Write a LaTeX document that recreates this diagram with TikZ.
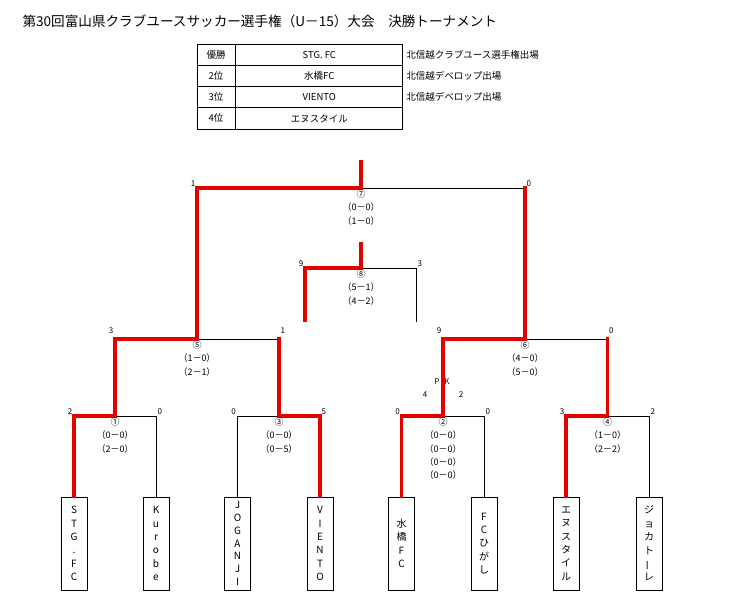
\documentclass[tikz,border=0pt]{standalone}
\usepackage{fontspec}
\setmainfont{Noto Sans CJK JP}
\usetikzlibrary{positioning}
\definecolor{winred}{RGB}{226,0,0}
\tikzset{
  win/.style={winred, line width=3.4pt, line cap=rect},
  lose/.style={black, line width=0.8pt},
  team/.style={draw, line width=0.8pt, minimum width=26pt, minimum height=93pt, inner sep=0pt, align=center, font=\fontsize{10}{13.4}\selectfont},
  res/.style={below, inner sep=1.5pt, align=center, font=\fontsize{9}{13.4}\selectfont},
  pt/.style={font=\fontsize{8}{9}\selectfont, inner sep=1.5pt},
  scl/.style={pt, anchor=south east},
  scr/.style={pt, anchor=south west},
  rank/.style={draw, line width=0.8pt, minimum width=38pt, minimum height=21.25pt, inner sep=0pt, font=\fontsize{9.5}{11}\selectfont},
  cell/.style={draw, line width=0.8pt, minimum width=167pt, minimum height=21.25pt, inner sep=0pt, font=\fontsize{9.5}{11}\selectfont},
  note/.style={inner sep=0pt, font=\fontsize{9.5}{11}\selectfont}
}
\begin{document}
\begin{tikzpicture}[x=1pt, y=-1pt, line join=miter]
  \useasboundingbox (0,0) rectangle (735,605);
  % title and ranking
  \node[anchor=west, font=\fontsize{13.6}{16}\selectfont] (title) at (19,21) {第30回富山県クラブユースサッカー選手権（U－15）大会　決勝トーナメント};
  \foreach \i/\rk/\tm/\nt in {0/優勝/STG. FC/北信越クラブユース選手権出場, 1/2位/水橋FC/北信越デベロップ出場, 2/3位/VIENTO/北信越デベロップ出場, 3/4位/エヌスタイル/}{
    \node[rank] (rk\i) at (216,{54.6+21.25*\i}) {\rk};
    \node[cell, right=0pt of rk\i] (tm\i) {\tm};
    \node[note, right=3pt of tm\i] (nt\i) {\nt};
  }
  % teams
  \node[team] (t1) at (74,543.5) {S\\T\\G\\.\\F\\C};
  \node[team] (t2) at (156,543.5) {K\\u\\r\\o\\b\\e};
  \node[team, font=\fontsize{10}{12.8}\selectfont] (t3) at (237.5,543.5) {J\\O\\G\\A\\N\\J\\I};
  \node[team] (t4) at (320,543.5) {V\\I\\E\\N\\T\\O};
  \node[team] (t5) at (401.5,543.5) {水\\橋\\F\\C};
  \node[team] (t6) at (484,543.5) {F\\C\\ひ\\が\\し};
  \node[team] (t7) at (566,543.5) {エ\\ヌ\\ス\\タ\\イ\\ル};
  \node[team] (t8) at (649,543.5) {ジ\\ョ\\カ\\ト\\\rotatebox[origin=c]{90}{ー}\\レ};
  % match points
  \coordinate (m1) at (115,416);
  \coordinate (m3) at (279,416);
  \coordinate (m2) at (443,416);
  \coordinate (m4) at (607.5,416);
  \coordinate (m5) at (197,339);
  \coordinate (m6) at (525,339);
  \coordinate (m7) at (361,188);
  \coordinate (m8) at (361,268);
  \coordinate (top7) at (361,162);
  \coordinate (top8) at (361,244);
  \coordinate (l8) at (305,320);
  \coordinate (r8) at (416,322);
  % losers
  \draw[lose] (t2.north) |- (m1);
  \draw[lose] (t3.north) |- (m3);
  \draw[lose] (t6.north) |- (m2);
  \draw[lose] (t8.north) |- (m4);
  \draw[lose] (m3 |- m5) -- (m5);
  \draw[lose] (m4 |- m6) -- (m6);
  \draw[lose] (m6 |- m7) -- (m7);
  \draw[lose] (r8) |- (m8);
  % winners
  \draw[win] (t1.north) |- (m1);
  \draw[win] (t4.north) |- (m3);
  \draw[win] (t5.north) |- (m2);
  \draw[win] (t7.north) |- (m4);
  \draw[win] (m1) |- (m5);
  \draw[win] (m3) -- (m3 |- m5);
  \draw[win] (m2) |- (m6);
  \draw[win] (m4) -- (m4 |- m6);
  \draw[win] (m5) |- (m7);
  \draw[win] (m6) -- (m6 |- m7);
  \draw[win] (m7) -- (top7);
  \draw[win] (l8) |- (m8);
  \draw[win] (m8) -- (top8);
  % scores
  \node[scl] (s1l) at (t1.north |- m1) {2};
  \node[scr] (s1r) at (t2.north |- m1) {0};
  \node[scl] (s3l) at (t3.north |- m3) {0};
  \node[scr] (s3r) at (t4.north |- m3) {5};
  \node[scl] (s2l) at (t5.north |- m2) {0};
  \node[scr] (s2r) at (t6.north |- m2) {0};
  \node[scl] (s4l) at (t7.north |- m4) {3};
  \node[scr] (s4r) at (t8.north |- m4) {2};
  \node[scl, yshift=4pt] (s5l) at (m1 |- m5) {3};
  \node[scr, yshift=4pt] (s5r) at (m3 |- m5) {1};
  \node[scl, yshift=4pt] (s6l) at (m2 |- m6) {9};
  \node[scr, yshift=4pt] (s6r) at (m4 |- m6) {0};
  \node[scl] (s7l) at (m5 |- m7) {1};
  \node[scr] (s7r) at (m6 |- m7) {0};
  \node[scl] (s8l) at (l8 |- m8) {9};
  \node[scr] (s8r) at (r8 |- m8) {3};
  \node[pt] (pk) at (442,382) {P\hspace{5pt}K};
  \node[pt] (pk4) at (425,395) {4};
  \node[pt] (pk2) at (461,395) {2};
  % results
  \node[res] (r1) at (m1) {①\\（0－0）\\（2－0）};
  \node[res] (r3) at (m3) {③\\（0－0）\\（0－5）};
  \node[res] (r2) at (m2) {②\\（0－0）\\（0－0）\\（0－0）\\（0－0）};
  \node[res] (r4) at (m4) {④\\（1－0）\\（2－2）};
  \node[res] (r5) at (m5) {⑤\\（1－0）\\（2－1）};
  \node[res] (r6) at (m6) {⑥\\（4－0）\\（5－0）};
  \node[res] (r7) at (m7) {⑦\\（0－0）\\（1－0）};
  \node[res] (r8) at (m8) {⑧\\（5－1）\\（4－2）};
\end{tikzpicture}
\end{document}
